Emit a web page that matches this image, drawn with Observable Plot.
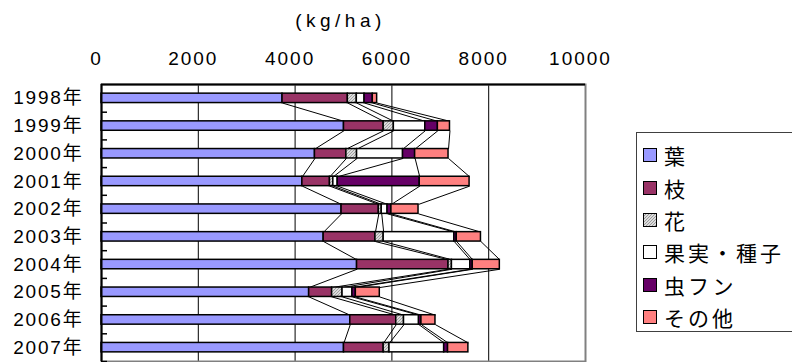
<!DOCTYPE html>
<html>
<head>
<meta charset="utf-8">
<script src="https://cdn.jsdelivr.net/npm/d3@7"></script>
<script src="https://cdn.jsdelivr.net/npm/@observablehq/plot@0.6"></script>
<style>
  html, body { margin: 0; padding: 0; background: #fff; overflow: hidden; }
  #wrap { position: relative; width: 792px; height: 362px; }
  #chart svg { display: block; }
  g[aria-label="y-axis tick label"] text { letter-spacing: 1.8px; }
  g[aria-label="x-axis tick label"] text { letter-spacing: 2px; }
  .unit-label text { letter-spacing: 4.5px; }
  #legend {
    position: absolute; left: 636px; top: 132px; width: 170px; height: 200px;
    border: 1px solid #404040; box-sizing: border-box; padding-top: 6px;
    font-family: "Noto Sans CJK JP", sans-serif; font-size: 21px; letter-spacing: 3px;
  }
  #legend .item { height: 32.4px; display: flex; align-items: center; }
  #legend .sw { width: 12px; height: 12px; border: 1.5px solid #000; margin-left: 6px; margin-right: 7px; flex: none; }
</style>
</head>
<body>
<div id="wrap">
  <div id="chart"></div>
  <div id="legend"></div>
</div>
<script>
// Dry-matter inputs by component, kg/ha per year
const years = ["1998年", "1999年", "2000年", "2001年", "2002年", "2003年", "2004年", "2005年", "2006年", "2007年"];
const leaf   = [3740, 5010, 4410, 4150, 4960, 4590, 5280, 4290, 5140, 5010];
const branch = [1350,  820,  650,  570,  770, 1070, 1890,  475,  950,  820];
const flower = [ 185,  210,  220,   70,   60,  170,   70,  215,  160,  120];
const fruit  = [ 160,  650,  950,   90,  120, 1460,  380,  205,  310, 1130];
const insect = [ 170,  260,  250, 1695,   80,   50,   50,   70,   50,   80];
const other  = [  90,  250,  690, 1030,  560,  500,  560,  495,  290,  420];

const seriesNames = ["葉", "枝", "花", "果実・種子", "虫フン", "その他"];
const seriesFills = ["#9999FF", "#993366", "url(#flowerHatch)", "#FFFFFF", "#660066", "#FF8080"];
const xTicks = [0, 2000, 4000, 6000, 8000, 10000];
const unitLabel = "(kg/ha)";

const series = [leaf, branch, flower, fruit, insect, other];
const barHalf = 0.17; // half bar thickness, in row units

// stacked segments: cumulative start/end per year and component
const segments = [];
const ends = years.map((_, i) => {
  let acc = 0;
  return series.map((vals, s) => {
    const x1 = acc;
    acc += vals[i];
    segments.push({i, s, x1, x2: acc, fill: seriesFills[s]});
    return acc;
  });
});

// series lines joining each component's end between consecutive years
const seriesLines = [];
for (let i = 0; i < years.length - 1; i++) {
  for (let s = 0; s < series.length; s++) {
    seriesLines.push({x1: ends[i][s], y1: i + barHalf, x2: ends[i + 1][s], y2: i + 1 - barHalf});
  }
}

const rowIndex = years.map((_, i) => i);
const rowEdges = years.map((_, i) => i + 0.5);

const chart = Plot.plot({
  width: 792,
  height: 362,
  marginLeft: 101,
  marginRight: 207,
  marginTop: 84,
  marginBottom: 1,
  style: {fontFamily: "'Liberation Sans', 'Noto Sans CJK JP', sans-serif", color: "#000", background: "#fff"},
  x: {domain: [0, 10000]},
  y: {domain: [-0.5, years.length - 0.5], reverse: true},
  color: {type: "identity"},
  marks: [
    Plot.ruleX(xTicks.slice(1, -1), {stroke: "#000", strokeWidth: 1}),
    Plot.frame({stroke: "#808080", strokeWidth: 2}),
    Plot.link(seriesLines, {x1: "x1", y1: "y1", x2: "x2", y2: "y2", stroke: "#000", strokeWidth: 1}),
    Plot.rect(segments, {
      x1: "x1", x2: "x2",
      y1: d => d.i - barHalf, y2: d => d.i + barHalf,
      fill: "fill", stroke: "#000", strokeWidth: 1.5
    }),
    Plot.ruleY([-0.5], {stroke: "#000", strokeWidth: 2}),
    Plot.ruleX([0], {stroke: "#000", strokeWidth: 2}),
    Plot.ruleY(rowEdges, {x1: 0, x2: 0, insetRight: -6, stroke: "#000", strokeWidth: 1.5}),
    Plot.axisX({
      anchor: "top", ticks: xTicks, tickFormat: d => String(d), tickSize: 0, tickPadding: 20, dx: -5,
      fontSize: 19, label: null
    }),
    Plot.axisY({
      anchor: "left", ticks: rowIndex, tickFormat: i => years[i],
      tickSize: 0, tickPadding: 18, fontSize: 19, label: null
    }),
    Plot.text([unitLabel], {
      text: d => d, frameAnchor: "top", dy: -64, dx: -3, lineAnchor: "middle",
      fontSize: 19, className: "unit-label"
    })
  ]
});

// hatched fill for the flower component
chart.insertAdjacentHTML("afterbegin",
  '<defs><pattern id="flowerHatch" patternUnits="userSpaceOnUse" width="3" height="3">' +
  '<rect width="3" height="3" fill="#dcdcdc"/><path d="M-1,1 L1,-1 M0,3 L3,0 M2,4 L4,2" stroke="#9a9a9a" stroke-width="0.9"/>' +
  '</pattern></defs>');
document.getElementById("chart").appendChild(chart);

// legend box
const legend = document.getElementById("legend");
seriesNames.forEach((name, s) => {
  const item = document.createElement("div");
  item.className = "item";
  const sw = document.createElement("span");
  sw.className = "sw";
  if (s === 2) {
    sw.style.background = "repeating-linear-gradient(135deg, #dcdcdc 0 1.3px, #9a9a9a 1.3px 2.1px)";
  } else {
    sw.style.background = seriesFills[s];
  }
  const label = document.createElement("span");
  label.textContent = name;
  item.appendChild(sw);
  item.appendChild(label);
  legend.appendChild(item);
});
</script>
</body>
</html>
